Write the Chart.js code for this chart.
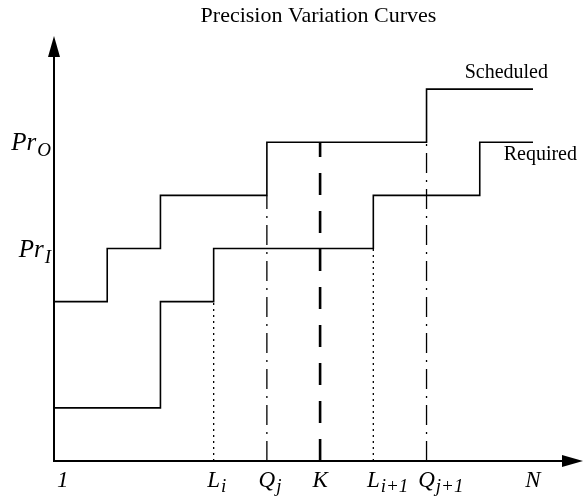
<!DOCTYPE html>
<html lang="en">
  <head>
    <meta charset="utf-8">
    <title>Precision Variation Curves</title>
    <script src="https://cdn.jsdelivr.net/npm/chart.js@4.4.0/dist/chart.umd.min.js"></script>
    <style>
      body { margin: 0; background: #fff; }
    </style>
  </head>
  <body>
    <canvas id="chart" width="583" height="500"></canvas>

    <script type="text/javascript">

    // step curves: x where each level starts, and the level
    var scheduledX = [0, 1, 2, 4, 7, 9]
    var scheduledY = [3, 4, 5, 6, 7, 7]
    var requiredX = [0, 2, 3, 6, 8, 9]
    var requiredY = [1, 3, 4, 5, 6, 6]

    // x axis ticks
    var xTickValues = [0, 3, 4, 5, 6, 7, 9]
    var xTickNames = ['1', 'L', 'Q', 'K', 'L', 'Q', 'N']
    var xTickSubs = ['', 'i', 'j', '', 'i+1', 'j+1', '']

    // vertical markers: where they stand and how high they reach
    var markerX = [3, 4, 5, 6, 7]
    var markerTop = [3, 5, 6, 4, 6]

    // y axis ticks
    var yTickValues = [6, 4]
    var yTickNames = ['Pr', 'Pr']
    var yTickSubs = ['O', 'I']

    var serif = '"Liberation Serif", "Times New Roman", serif'

    // level holds from this x until the next one
    function toSteps(xs, ys){
      var pts = []
      for(var i = 0; i < xs.length; i++){
        if(i > 0) pts.push({x: xs[i], y: ys[i - 1]})
        pts.push({x: xs[i], y: ys[i]})
      }
      return pts
    }

    // line look depends on which tick the marker sits on
    var markerLook = {
      L: {borderWidth: 1.3, borderDash: [2, 4]},
      Q: {borderWidth: 1.3, borderDash: [20, 7, 2, 7]},
      K: {borderWidth: 2.6, borderDash: [22, 16]}
    }

    var datasets = [
      {
        label: 'Scheduled',
        data: toSteps(scheduledX, scheduledY),
        borderColor: '#000',
        borderWidth: 1.6,
        pointRadius: 0,
        clip: false
      },
      {
        label: 'Required',
        data: toSteps(requiredX, requiredY),
        borderColor: '#000',
        borderWidth: 1.6,
        pointRadius: 0,
        clip: false
      }
    ]

    for(var m = 0; m < markerX.length; m++){
      var name = xTickNames[xTickValues.indexOf(markerX[m])]
      var look = markerLook[name]
      datasets.push({
        label: 'marker',
        data: [{x: markerX[m], y: 0}, {x: markerX[m], y: markerTop[m]}],
        borderColor: '#000',
        borderWidth: look.borderWidth,
        borderDash: look.borderDash,
        pointRadius: 0,
        clip: false
      })
    }

    function drawSubLabel(ctx, base, sub, x, y, baseSize, subSize, subDrop){
      ctx.font = 'italic ' + baseSize + 'px ' + serif
      ctx.fillText(base, x, y)
      var w = ctx.measureText(base).width
      if(sub){
        ctx.font = 'italic ' + subSize + 'px ' + serif
        ctx.fillText(sub, x + w + 1, y + subDrop)
      }
    }

    function labelWidth(ctx, base, sub, baseSize, subSize){
      ctx.font = 'italic ' + baseSize + 'px ' + serif
      var w = ctx.measureText(base).width
      if(sub){
        ctx.font = 'italic ' + subSize + 'px ' + serif
        w += ctx.measureText(sub).width + 1
      }
      return w
    }

    var annotate = {
      id: 'annotate',
      afterDraw: function(chart){
        var ctx = chart.ctx
        var area = chart.chartArea
        var xs = chart.scales.x
        var ys = chart.scales.y

        ctx.save()
        ctx.strokeStyle = '#000'
        ctx.fillStyle = '#000'
        ctx.lineWidth = 2
        ctx.setLineDash([])

        // axes with arrow heads
        ctx.beginPath()
        ctx.moveTo(area.left, area.top + 18)
        ctx.lineTo(area.left, area.bottom)
        ctx.lineTo(area.right - 18, area.bottom)
        ctx.stroke()

        ctx.beginPath()
        ctx.moveTo(area.left, area.top)
        ctx.lineTo(area.left - 6, area.top + 21)
        ctx.lineTo(area.left + 6, area.top + 21)
        ctx.closePath()
        ctx.fill()

        ctx.beginPath()
        ctx.moveTo(area.right, area.bottom)
        ctx.lineTo(area.right - 21, area.bottom - 6)
        ctx.lineTo(area.right - 21, area.bottom + 6)
        ctx.closePath()
        ctx.fill()

        ctx.textAlign = 'left'
        ctx.textBaseline = 'alphabetic'

        // x tick labels
        for(var i = 0; i < xTickValues.length; i++){
          var px = xs.getPixelForValue(xTickValues[i])
          ctx.font = 'italic 23px ' + serif
          var bw = ctx.measureText(xTickNames[i]).width
          var x0 = Math.max(px - bw / 2, area.left + 3)
          drawSubLabel(ctx, xTickNames[i], xTickSubs[i], x0, area.bottom + 26, 23, 19, 5)
        }

        // y tick labels
        for(var j = 0; j < yTickValues.length; j++){
          var py = ys.getPixelForValue(yTickValues[j])
          var tw = labelWidth(ctx, yTickNames[j], yTickSubs[j], 25, 19)
          drawSubLabel(ctx, yTickNames[j], yTickSubs[j], area.left - 3 - tw, py + 8, 25, 19, 6)
        }

        // series names at the end of each curve
        ctx.font = '20px ' + serif
        var s = chart.data.datasets[0]
        var sEnd = s.data[s.data.length - 1]
        ctx.textAlign = 'right'
        ctx.fillText(s.label, xs.getPixelForValue(sEnd.x) + 15, ys.getPixelForValue(sEnd.y) - 11)

        var r = chart.data.datasets[1]
        var rEnd = r.data[r.data.length - 1]
        ctx.fillText(r.label, xs.getPixelForValue(rEnd.x) + 44, ys.getPixelForValue(rEnd.y) + 18)

        ctx.restore()
      }
    }

    var ctx = document.getElementById('chart').getContext('2d')
    var chart = new Chart(ctx, {
      type: 'line',
      data: {datasets: datasets},
      options: {
        responsive: false,
        animation: false,
        layout: {
          padding: {left: 54, right: 0, top: 0, bottom: 39}
        },
        scales: {
          x: {type: 'linear', min: 0, max: 9.94, display: false},
          y: {type: 'linear', min: 0, max: 8, display: false}
        },
        plugins: {
          legend: {display: false},
          tooltip: {enabled: false},
          title: {
            display: true,
            text: 'Precision Variation Curves',
            color: '#000',
            font: {family: serif, size: 22, weight: 'normal', lineHeight: 1.2},
            padding: {top: 3, bottom: 6.6}
          }
        }
      },
      plugins: [annotate]
    })

    </script>
  </body>
</html>
